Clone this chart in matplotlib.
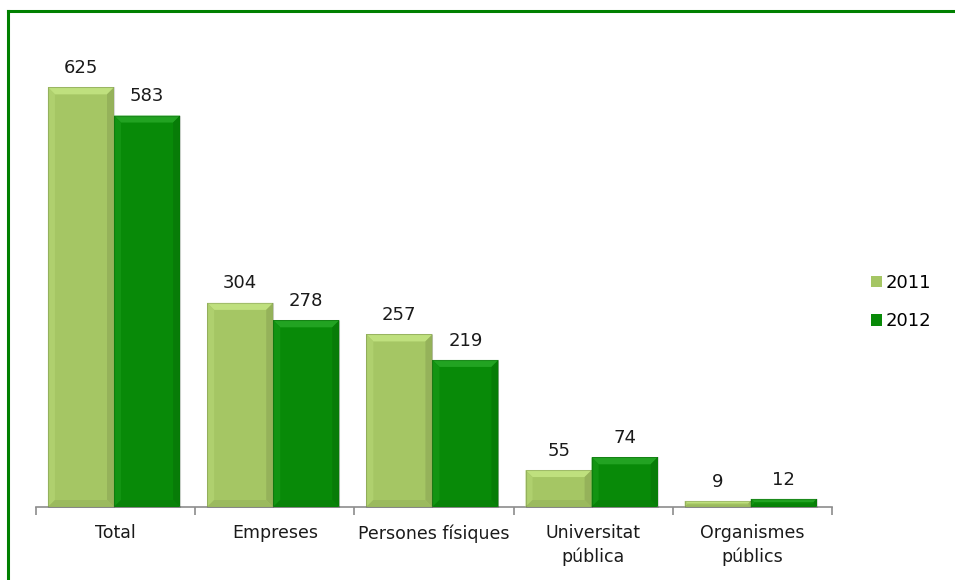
import numpy as np
import matplotlib.pyplot as plt
from matplotlib.patches import Polygon
from matplotlib.lines import Line2D
import matplotlib.colors as mcolors

categories = ["Total", "Empreses", "Persones físiques", "Universitat\npública", "Organismes\npúblics"]
vals_2011 = [625, 304, 257, 55, 9]
vals_2012 = [583, 278, 219, 74, 12]
years = ["2011", "2012"]
colors = ["#a5c664", "#088a08"]

plt.rcParams['font.family'] = ['DejaVu Sans']

fig = plt.figure(figsize=(9.55, 5.8), dpi=100)
ax = fig.add_axes([36/955, 73/580, (832-36)/955, (507-37)/580])

x = np.arange(len(categories))
w = 0.415
bars1 = ax.bar(x - w/2 - 0.01, vals_2011, w, color=colors[0], label=years[0], zorder=2)
bars2 = ax.bar(x + w/2 - 0.01, vals_2012, w, color=colors[1], label=years[1], zorder=2)

ax.set_xlim(-0.5, len(categories) - 0.5)
ax.set_ylim(0, 700)
ax.set_yticks([])
for s in ["top", "right", "left"]:
    ax.spines[s].set_visible(False)
ax.spines["bottom"].set_color("#8c8c8c")
ax.spines["bottom"].set_linewidth(1.2)
ax.set_xticks(np.arange(len(categories) + 1) - 0.5, minor=True)
ax.set_xticks(x)
ax.set_xticklabels(categories, fontsize=12.5, color="#1a1a1a", linespacing=1.35)
ax.tick_params(axis="x", which="major", length=0, pad=12.5)
ax.tick_params(axis="x", which="minor", length=6, color="#8c8c8c", width=1.2)

# value labels
for bars in (bars1, bars2):
    for b in bars:
        ax.annotate(f"{int(b.get_height())}", (b.get_x() + b.get_width()/2, b.get_height()),
                    xytext=(0, 7.5), textcoords="offset points", ha="center", va="bottom",
                    fontsize=13, color="#1a1a1a")

# bevel effect on bars
fig.canvas.draw()
def bevel(b, base):
    (x0, y0), (x1, y1) = ax.transData.transform([(b.get_x(), 0), (b.get_x() + b.get_width(), b.get_height())])
    d = min(7, (y1 - y0) / 2.5, (x1 - x0) / 3)
    light = mcolors.to_rgb(base)
    hi = tuple(min(1, c + 0.10) for c in light)
    side = tuple(max(0, c * 0.9) for c in light)
    lo = tuple(max(0, c * 0.94) for c in light)
    polys = [
        ([(x0, y1), (x1, y1), (x1 - d, y1 - d), (x0 + d, y1 - d)], hi),
        ([(x0, y0), (x0 + d, y0 + d), (x0 + d, y1 - d), (x0, y1)], tuple(min(1, c + 0.04) for c in light)),
        ([(x1, y0), (x1, y1), (x1 - d, y1 - d), (x1 - d, y0 + d)], side),
        ([(x0, y0), (x1, y0), (x1 - d, y0 + d), (x0 + d, y0 + d)], lo),
    ]
    for pts, c in polys:
        fig.add_artist(Polygon(pts, closed=True, transform=None, facecolor=c, edgecolor="none", zorder=3))
    fig.add_artist(Polygon([(x0, y0), (x1, y0), (x1, y1), (x0, y1)], closed=True, transform=None,
                           facecolor="none", edgecolor=(0, 0, 0, 0.15), lw=0.8, zorder=3))

for b in bars1:
    bevel(b, colors[0])
for b in bars2:
    bevel(b, colors[1])

leg = fig.legend(handles=[bars1, bars2], labels=years, loc="center left", bbox_to_anchor=(864/955, 1 - 302/580),
                 frameon=False, fontsize=13, handlelength=0.6, handleheight=0.6, handletextpad=0.2,
                 labelspacing=1.15, borderaxespad=0)

# green frame (top and left visible)
fig.add_artist(Line2D([8/955, 1], [1 - 11/580, 1 - 11/580], color="#008000", lw=2.2, transform=fig.transFigure))
fig.add_artist(Line2D([8/955, 8/955], [0, 1 - 11/580], color="#008000", lw=2.2, transform=fig.transFigure))

fig.savefig("out.png", dpi=100)
